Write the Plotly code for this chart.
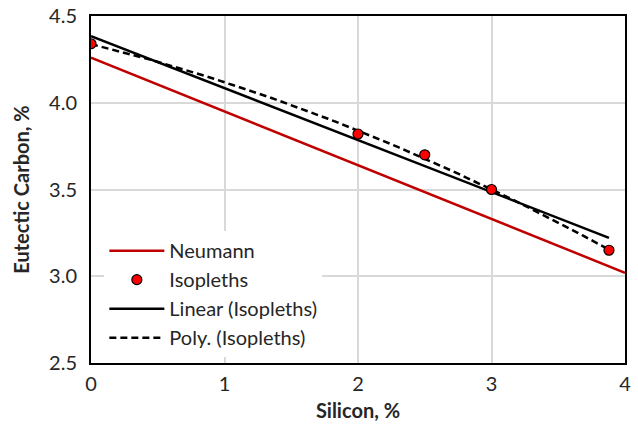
import numpy as np
import plotly.graph_objects as go

# Data
si_iso = [0, 2, 2.5, 3, 3.88]
c_iso = [4.34, 3.82, 3.70, 3.50, 3.15]
si_neu = [0, 4]
neu_intercept = 4.26
neu_slope = -0.31

c_neu = [neu_intercept + neu_slope * s for s in si_neu]

# Trendlines (Excel-style, computed from isopleth data)
lin = np.polyfit(si_iso, c_iso, 1)
poly = np.polyfit(si_iso, c_iso, 2)
xs = np.linspace(min(si_iso), max(si_iso), 60)
lin_x = [min(si_iso), max(si_iso)]
lin_y = list(np.polyval(lin, lin_x))
poly_y = np.polyval(poly, xs)

FONT = "Lato"
TXT = "#262626"

fig = go.Figure()
fig.add_trace(go.Scatter(x=si_neu, y=c_neu, mode="lines", name="Neumann", legendrank=1,
                         line=dict(color="#c00000", width=2.5)))
fig.add_trace(go.Scatter(x=lin_x, y=lin_y, mode="lines", name="Linear (Isopleths)", legendrank=3,
                         line=dict(color="black", width=2.5)))
fig.add_trace(go.Scatter(x=xs, y=poly_y, mode="lines", name="Poly. (Isopleths)", legendrank=4,
                         line=dict(color="black", width=2.5, dash="7px,4px")))
fig.add_trace(go.Scatter(x=si_iso, y=c_iso, mode="markers", name="Isopleths", legendrank=2,
                         marker=dict(color="#ff0000", size=10,
                                     line=dict(color="black", width=1.2))))

fig.update_layout(
    width=638, height=425,
    margin=dict(l=91, r=13, t=16, b=62),
    plot_bgcolor="white", paper_bgcolor="white",
    font=dict(family=FONT, size=20, color=TXT),
    showlegend=True,
    legend=dict(x=0.025, y=0.38, xanchor="left", yanchor="top",
                bgcolor="white", font=dict(family=FONT, size=20, color=TXT),
                itemwidth=55, traceorder="normal"),
    xaxis=dict(range=[0, 4], dtick=1, tickformat="d", automargin=False,
               showgrid=True, gridcolor="#d9d9d9", gridwidth=1.5,
               showline=True, linecolor="black", linewidth=2, mirror=True,
               zeroline=False, ticks="", tickfont=dict(size=20), ticklabelstandoff=2,
               title=dict(text="<b>Silicon, %</b>", font=dict(size=20), standoff=10)),
    yaxis=dict(range=[2.5, 4.5], dtick=0.5, tickformat=".1f", automargin=False,
               showgrid=True, gridcolor="#d9d9d9", gridwidth=1.5,
               showline=True, linecolor="black", linewidth=2, mirror=True,
               zeroline=False, ticks="", tickfont=dict(size=20), ticklabelstandoff=8,
               title=dict(text="<b>Eutectic Carbon, %</b>", font=dict(size=20), standoff=14)),
)

fig.write_html("out.html")
